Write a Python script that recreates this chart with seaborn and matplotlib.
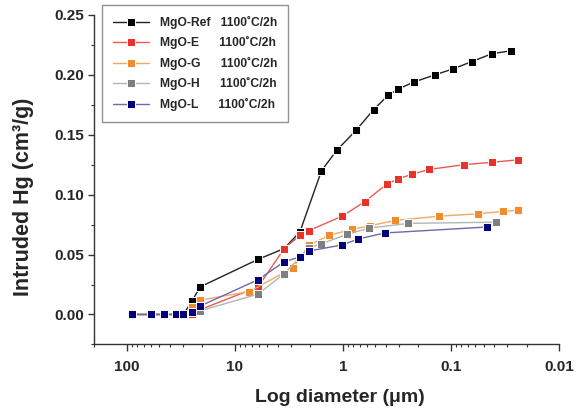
import matplotlib
matplotlib.use("Agg")
import matplotlib.pyplot as plt
import matplotlib.ticker as mticker
import seaborn as sns
import numpy as np
import pandas as pd

# pore diameter (um) and intruded Hg (cm3/g)
d_ref = [90, 60, 45, 35, 30, 25, 21, 6.1, 3.5, 2.5, 1.58, 1.14, 0.75, 0.52, 0.38,
         0.31, 0.22, 0.14, 0.095, 0.064, 0.042, 0.028]
v_ref = [0, 0, 0, 0, 0, 0.011, 0.023, 0.046, 0.055, 0.069, 0.120, 0.137, 0.154,
         0.171, 0.183, 0.188, 0.194, 0.200, 0.205, 0.211, 0.2175, 0.220]

d_e = [90, 60, 45, 35, 30, 25, 21, 6.1, 3.5, 2.5, 2.06, 1.02, 0.63, 0.39, 0.31,
       0.23, 0.16, 0.075, 0.042, 0.024]
v_e = [0, 0, 0, 0, 0, 0, 0.004, 0.023, 0.055, 0.066, 0.070, 0.082, 0.094, 0.109,
       0.113, 0.117, 0.121, 0.125, 0.127, 0.129]

d_g = [90, 60, 45, 35, 30, 25, 21, 7.4, 2.9, 2.06, 1.34, 0.83, 0.56, 0.33, 0.128,
       0.056, 0.033, 0.024]
v_g = [0, 0, 0, 0, 0, 0.006, 0.012, 0.019, 0.039, 0.058, 0.066, 0.071, 0.074,
       0.0785, 0.082, 0.084, 0.086, 0.087]

d_h = [90, 60, 45, 35, 30, 25, 21, 6.1, 3.5, 2.06, 1.58, 0.91, 0.57, 0.25, 0.038]
v_h = [0, 0, 0, 0, 0, 0.002, 0.003, 0.017, 0.034, 0.0556, 0.059, 0.067, 0.072,
       0.076, 0.077]

d_l = [90, 60, 45, 35, 30, 25, 21, 6.1, 3.5, 2.5, 2.06, 1.02, 0.72, 0.41, 0.046]
v_l = [0, 0, 0, 0, 0, 0.002, 0.007, 0.029, 0.044, 0.048, 0.053, 0.058, 0.063,
       0.068, 0.073]

labels = ["MgO-Ref   1100\u02daC/2h", "MgO-E      1100\u02daC/2h",
          "MgO-G      1100\u02daC/2h", "MgO-H      1100\u02daC/2h",
          "MgO-L      1100\u02daC/2h"]
marker_colors = ["#000000", "#E8322A", "#F08B2E", "#7F7F7F", "#00007A"]
line_colors = ["#222222", "#EC5A4E", "#F4A860", "#B5B5B5", "#6A6AAE"]

series = [(d_ref, v_ref), (d_e, v_e), (d_g, v_g), (d_h, v_h), (d_l, v_l)]

sns.set_style("ticks")
plt.rcParams["font.family"] = ["Liberation Sans", "DejaVu Sans"]
plt.rcParams["font.weight"] = "bold"
plt.rcParams["axes.labelweight"] = "bold"

fig = plt.figure(figsize=(5.86, 4.12), dpi=100)
ax = fig.add_axes([0.161, 0.164, 0.793, 0.800])

for (d, v), lab, mc, lc in zip(series, labels, marker_colors, line_colors):
    df = pd.DataFrame({"d": d, "v": v})
    sns.lineplot(data=df, x="d", y="v", ax=ax, sort=False, color=lc, lw=1.0,
                 marker="s", markersize=5.3, markerfacecolor=mc,
                 markeredgecolor="white", markeredgewidth=0.7, label=lab)

ax.set_xscale("log")
ax.set_xlim(200, 0.01)
ax.set_ylim(-0.025, 0.25)
ax.set_xticks([100, 10, 1, 0.1, 0.01])
ax.set_xticklabels(["100", "10", "1", "0.1", "0.01"])
ax.xaxis.set_minor_locator(mticker.LogLocator(base=10, subs=np.arange(2, 10)))
ax.xaxis.set_minor_formatter(mticker.NullFormatter())
ax.yaxis.set_major_locator(mticker.MultipleLocator(0.05))
ax.yaxis.set_minor_locator(mticker.MultipleLocator(0.025))
ax.yaxis.set_major_formatter(mticker.FormatStrFormatter("%.2f"))

ax.tick_params(axis="both", which="major", labelsize=11, color="#333333",
               width=1, direction="out")
ax.tick_params(axis="x", which="major", length=5, pad=6)
ax.tick_params(axis="x", which="minor", length=2.5, width=0.8, color="#333333")
ax.tick_params(axis="y", which="major", length=4, pad=3)
ax.tick_params(axis="y", which="minor", length=2.5, width=0.8, color="#333333")
for lab in ax.get_xticklabels() + ax.get_yticklabels():
    lab.set_fontweight("bold")

sns.despine(ax=ax)
for s in ["left", "bottom"]:
    ax.spines[s].set_color("#333333")
    ax.spines[s].set_linewidth(1.0)

ax.set_xlabel("Log diameter (\u03bcm)", fontsize=14, fontweight="bold")
ax.set_ylabel("Intruded Hg (cm\u00b3/g)", fontsize=15.5, fontweight="bold")
ax.xaxis.set_label_coords(0.529, -0.135)
ax.yaxis.set_label_coords(-0.13, 0.447)

leg = ax.legend(loc="upper left", bbox_to_anchor=(0.0166, 1.03), borderaxespad=0,
                frameon=True, fancybox=False, edgecolor="#777777",
                prop={"size": 8.7, "weight": "bold"}, handlelength=3.0,
                labelspacing=0.62, borderpad=0.9, handletextpad=0.9)
leg.get_frame().set_linewidth(1.0)

fig.savefig("out.png", dpi=100)
